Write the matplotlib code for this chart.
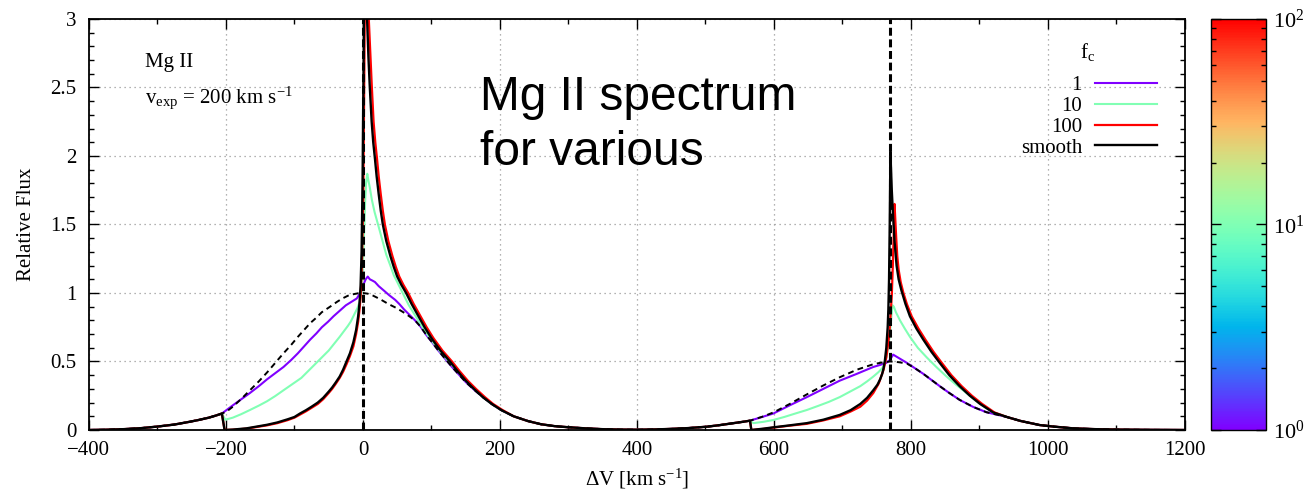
import matplotlib
matplotlib.use('Agg')
import numpy as np
import matplotlib.pyplot as plt
from matplotlib.colors import LogNorm
from matplotlib.cm import ScalarMappable
from matplotlib.ticker import MultipleLocator, LogLocator

# outer wings, identical for every curve
wing_l_v = [-400, -375, -350, -325, -300, -275, -253, -240, -225, -215, -206]
wing_l_f = [0.0, 0.002, 0.006, 0.013, 0.025, 0.04, 0.06, 0.073, 0.09, 0.105, 0.12]
gap_v = [220, 241, 260, 280, 300, 325, 350, 375, 400, 425, 450, 475, 502, 520, 541, 555, 565]
gap_f = [0.1, 0.065, 0.042, 0.028, 0.02, 0.012, 0.006, 0.003, 0.002, 0.004, 0.008, 0.014, 0.024, 0.035,
         0.05, 0.06, 0.068]
wing_r_v = [940, 960, 988, 1010, 1037, 1070, 1100, 1150, 1200]
wing_r_f = [0.095, 0.066, 0.036, 0.024, 0.012, 0.006, 0.003, 0.001, 0.0]

# smooth (black)
smooth_k_v = [-202, -190, -170, -155, -140, -125, -110, -100, -92, -83,
              -75, -66, -58, -50, -45, -40, -34, -29, -24, -19,
              -14, -10, -7, -5, -3.5, -2, -0.5, 0.8, 2, 3.2,
              4.5, 6, 8, 10, 12.7, 15, 17.5, 20, 23, 26,
              29, 34, 40, 45, 50, 56, 63, 71, 80, 90,
              100, 113, 127, 138, 150, 162, 175, 188, 202]
smooth_k_f = [0.0, 0.003, 0.012, 0.025, 0.038, 0.055, 0.078, 0.095, 0.12, 0.145,
              0.17, 0.2, 0.235, 0.28, 0.31, 0.345, 0.39, 0.44, 0.5, 0.56,
              0.64, 0.73, 0.83, 0.93, 1.05, 1.3, 1.85, 2.6, 3.4, 3.9,
              3.4, 3.0, 2.72, 2.5, 2.25, 2.1, 1.98, 1.85, 1.72, 1.6,
              1.5, 1.38, 1.27, 1.19, 1.12, 1.06, 1.0, 0.92, 0.84, 0.75,
              0.67, 0.58, 0.5, 0.43, 0.36, 0.3, 0.24, 0.19, 0.145]
smooth_h_v = [567, 585, 600, 620, 648, 672, 696, 712, 726, 736,
              745, 751, 755, 758, 760, 762, 764, 766, 767, 768,
              769, 770, 771, 772, 774, 776, 779, 782, 786, 792,
              798.5, 808, 818, 830, 842, 856, 871, 886, 901, 920]
smooth_h_f = [0.0, 0.01, 0.02, 0.032, 0.05, 0.075, 0.11, 0.145, 0.19, 0.235,
              0.29, 0.33, 0.37, 0.41, 0.45, 0.51, 0.6, 0.75, 0.88, 1.1,
              1.5, 2.03, 1.9, 1.75, 1.55, 1.38, 1.2, 1.1, 1.02, 0.92,
              0.83, 0.74, 0.66, 0.57, 0.49, 0.40, 0.32, 0.25, 0.19, 0.128]

# f_c = 100 (red)
fc100_k_v = [-202, -190, -170, -155, -140, -125, -110, -100, -92, -83,
             -75, -66, -58, -50, -45, -40, -34, -29, -24, -19,
             -14, -10, -7, -5, -3.5, -1.5, 0.5, 2, 3.5, 5,
             6.5, 8.5, 11, 13, 15.5, 18, 20.5, 23, 26, 29,
             32, 37, 43, 48, 53, 59, 66, 74, 83, 93,
             103, 116, 130, 141, 153, 165, 178, 190, 204]
fc100_k_f = [0.0, 0.002, 0.01, 0.022, 0.034, 0.05, 0.072, 0.09, 0.112, 0.137,
             0.162, 0.19, 0.225, 0.27, 0.3, 0.335, 0.38, 0.425, 0.48, 0.54,
             0.61, 0.7, 0.79, 0.88, 0.97, 1.2, 1.7, 2.6, 3.6, 4.0,
             3.4, 3.0, 2.72, 2.5, 2.25, 2.1, 1.98, 1.85, 1.72, 1.6,
             1.5, 1.38, 1.27, 1.19, 1.12, 1.06, 1.0, 0.92, 0.84, 0.75,
             0.67, 0.58, 0.5, 0.43, 0.36, 0.3, 0.24, 0.19, 0.145]
fc100_h_v = [567, 585, 600, 620, 648, 672, 696, 712, 726, 736,
             745, 753, 760, 764, 768, 770, 772, 773.5, 775, 776,
             777, 778.5, 780, 782, 785, 789, 794, 801, 811, 821,
             833, 845, 859, 874, 889, 904, 922]
fc100_h_f = [0.0, 0.008, 0.018, 0.03, 0.045, 0.07, 0.10, 0.135, 0.17, 0.215,
             0.27, 0.34, 0.44, 0.53, 0.68, 0.82, 0.98, 1.2, 1.45, 1.65,
             1.55, 1.4, 1.27, 1.17, 1.08, 1.0, 0.92, 0.83, 0.74, 0.66,
             0.57, 0.49, 0.40, 0.32, 0.25, 0.19, 0.128]

# f_c = 10 (green)
fc10_k_v = [-201, -190, -178, -165, -152, -140, -128, -116, -103, -90,
            -79, -68, -59, -50, -42, -34, -28, -22, -18, -14,
            -11, -8, -6, -4, -2.5, -1, 0.5, 2, 3.3, 4.5,
            6.3, 8, 10, 13, 17, 22, 28, 34, 40, 45,
            51, 58, 67, 77, 88, 99, 113, 127, 138, 150,
            162, 175, 188, 202]
fc10_k_f = [0.075, 0.09, 0.115, 0.146, 0.178, 0.21, 0.248, 0.29, 0.335, 0.38,
            0.435, 0.49, 0.535, 0.58, 0.63, 0.68, 0.72, 0.76, 0.79, 0.83,
            0.86, 0.89, 0.92, 0.95, 1.0, 1.1, 1.28, 1.5, 1.68, 1.8,
            1.87, 1.82, 1.77, 1.68, 1.59, 1.5, 1.39, 1.28, 1.2, 1.13,
            1.07, 1.0, 0.91, 0.83, 0.74, 0.66, 0.57, 0.49, 0.43, 0.36,
            0.3, 0.24, 0.19, 0.145]
fc10_h_v = [570, 585, 599, 615, 631, 648, 664, 680, 696, 711,
            726, 736, 745, 752, 758, 762, 765, 768, 771, 773,
            775, 778, 781, 784, 791, 798.5, 810, 823, 837, 852,
            866, 881, 901, 920]
fc10_h_f = [0.05, 0.06, 0.073, 0.095, 0.12, 0.146, 0.175, 0.205, 0.24, 0.28,
            0.32, 0.355, 0.39, 0.42, 0.45, 0.49, 0.55, 0.65, 0.8, 0.91,
            0.9, 0.86, 0.83, 0.80, 0.74, 0.68, 0.60, 0.53, 0.46, 0.39,
            0.33, 0.27, 0.19, 0.128]

# f_c = 1 (purple)
fc1_k_v = [-190, -165, -152, -140, -128, -116, -105, -95, -86, -77,
           -68, -60, -51, -43, -34, -25, -17, -9, -4, 0.5,
           4, 7, 10, 14, 17.5, 23, 30, 38, 47, 53,
           60, 68, 76, 84, 93, 101, 110, 120, 130, 140,
           150, 162, 175, 188, 202]
fc1_k_f = [0.18, 0.27, 0.32, 0.37, 0.415, 0.46, 0.51, 0.56, 0.61, 0.66,
           0.705, 0.75, 0.79, 0.83, 0.87, 0.91, 0.935, 0.96, 1.0, 1.06,
           1.10, 1.12, 1.10, 1.09, 1.08, 1.05, 1.02, 0.985, 0.95, 0.92,
           0.88, 0.84, 0.80, 0.755, 0.69, 0.64, 0.58, 0.52, 0.46, 0.405,
           0.35, 0.295, 0.24, 0.19, 0.145]
fc1_h_v = [599, 623, 648, 672, 696, 721, 745, 755, 764, 769,
           774, 779, 784, 794, 806, 818, 830, 842, 856, 871,
           891, 910]
fc1_h_f = [0.12, 0.18, 0.24, 0.30, 0.36, 0.41, 0.46, 0.475, 0.49, 0.51,
           0.55, 0.535, 0.52, 0.49, 0.45, 0.41, 0.365, 0.32, 0.27, 0.22,
           0.168, 0.13]

# intrinsic profile (dashed)
intr_k_v = [-199, -190, -178, -165, -152, -140, -128, -116, -105, -95,
            -86, -77, -68, -60, -48, -38, -30, -22, -15, -7,
            0, 7, 15, 25, 37, 49, 62, 76, 84, 93,
            101, 110, 120, 130, 140, 150, 162, 175, 188, 202]
intr_k_f = [0.135, 0.17, 0.225, 0.29, 0.355, 0.42, 0.49, 0.56, 0.62, 0.68,
            0.73, 0.78, 0.82, 0.86, 0.90, 0.935, 0.96, 0.98, 0.99, 0.998,
            1.0, 0.995, 0.98, 0.955, 0.92, 0.89, 0.85, 0.80, 0.755, 0.69,
            0.64, 0.58, 0.52, 0.46, 0.405, 0.35, 0.295, 0.24, 0.19, 0.145]
intr_h_v = [585, 600, 623, 648, 672, 696, 721, 745, 760, 770,
            782, 794, 806, 818, 830, 842, 856, 871, 891, 910]
intr_h_f = [0.1, 0.13, 0.19, 0.26, 0.325, 0.385, 0.44, 0.48, 0.495, 0.50,
            0.495, 0.485, 0.45, 0.41, 0.365, 0.32, 0.27, 0.22, 0.168, 0.13]

line_centres = [0, 770]
fc_values = [1, 10, 100]
fc_labels = ['1', '10', '100', 'smooth']


def build(k_v, k_f, h_v, h_f):
    v = wing_l_v + k_v + gap_v + h_v + wing_r_v
    f = wing_l_f + k_f + gap_f + h_f + wing_r_f
    return np.array(v), np.array(f)


plt.rcParams['font.family'] = 'serif'
plt.rcParams['font.serif'] = ['Liberation Serif', 'DejaVu Serif']
plt.rcParams['mathtext.fontset'] = 'custom'
plt.rcParams['mathtext.rm'] = 'Liberation Serif'
plt.rcParams['mathtext.it'] = 'Liberation Serif:italic'
plt.rcParams['font.size'] = 15

cmap = plt.get_cmap('rainbow')
norm = LogNorm(vmin=1, vmax=100)

fig = plt.figure(figsize=(13.14, 4.93), dpi=100)
ax = fig.add_axes([0.0677, 0.1278, 0.8341, 0.8337])
cax = fig.add_axes([0.9216, 0.1278, 0.0419, 0.8337])

ax.grid(True, which='major', linestyle=(0, (1, 3)), color='#999999', linewidth=0.9)
ax.set_axisbelow(True)

v, f = build(fc1_k_v, fc1_k_f, fc1_h_v, fc1_h_f)
ax.plot(v, f, color=cmap(norm(fc_values[0])), linewidth=1.5, label=fc_labels[0])
v, f = build(fc10_k_v, fc10_k_f, fc10_h_v, fc10_h_f)
ax.plot(v, f, color=cmap(norm(fc_values[1])), linewidth=1.5, label=fc_labels[1])
v, f = build(fc100_k_v, fc100_k_f, fc100_h_v, fc100_h_f)
ax.plot(v, f, color=cmap(norm(fc_values[2])), linewidth=1.6, label=fc_labels[2])
v, f = build(smooth_k_v, smooth_k_f, smooth_h_v, smooth_h_f)
ax.plot(v, f, color='black', linewidth=1.7, label=fc_labels[3])
v, f = build(intr_k_v, intr_k_f, intr_h_v, intr_h_f)
ax.plot(v, f, color='black', linewidth=1.4, dashes=(3, 2.2))

for c in line_centres:
    ax.axvline(c, color='black', linewidth=2.2, dashes=(2.6, 1.2))

ax.set_xlim(-400, 1200)
ax.set_ylim(0, 3)
ax.xaxis.set_minor_locator(MultipleLocator(100))
ax.yaxis.set_minor_locator(MultipleLocator(0.1))
ax.set_yticks([0, 0.5, 1, 1.5, 2, 2.5, 3])
ax.set_yticklabels(['0', '0.5', '1', '1.5', '2', '2.5', '3'])
ax.set_xticks(range(-400, 1201, 200))
ax.set_xticklabels(['\u2212400', '\u2212200', '0', '200', '400', '600', '800', '1000', '1200'])
ax.tick_params(which='both', direction='in', top=True, right=True)
ax.tick_params(which='major', length=7, width=1.0)
ax.tick_params(which='minor', length=3.5, width=1.0)
ax.tick_params(axis='x', which='major', pad=8)
ax.tick_params(axis='y', which='major', pad=9)
for s in ax.spines.values():
    s.set_linewidth(1.3)

ax.set_xlabel('\u0394V [km s$^{-1}$]', labelpad=5)
ax.set_ylabel('Relative Flux', labelpad=10)

ax.text(0.051, 0.884, 'Mg II', transform=ax.transAxes)
ax.text(0.051, 0.795, r'v$_{\rm exp}$ = 200 km s$^{-1}$', transform=ax.transAxes)

ax.text(0.357, 0.7786, 'Mg II spectrum', transform=ax.transAxes, fontsize=34.5, family='Liberation Sans')
ax.text(0.357, 0.6448, 'for various', transform=ax.transAxes, fontsize=34.5, family='Liberation Sans')

ax.text(0.9115, 0.92, 'f$_{\\rm c}$', transform=ax.transAxes, ha='center', va='center')
ax.legend(loc='upper right', bbox_to_anchor=(0.9745, 0.862), frameon=False, markerfirst=False,
          handlelength=3.0, handletextpad=0.6, labelspacing=0.06,
          borderpad=0, borderaxespad=0, fontsize=15)

sm = ScalarMappable(norm=norm, cmap=cmap)
cbar = fig.colorbar(sm, cax=cax)
cbar.ax.yaxis.set_major_locator(LogLocator(base=10))
cbar.ax.yaxis.set_minor_locator(LogLocator(base=10, subs=np.arange(2, 10)))
cbar.ax.tick_params(which='both', direction='in', left=True, right=True, labelsize=16)
cbar.ax.tick_params(which='major', length=7, width=1.0, pad=5)
cbar.ax.tick_params(which='minor', length=3.5, width=1.0)
cbar.outline.set_linewidth(1.0)

fig.savefig('out.png', dpi=100)
